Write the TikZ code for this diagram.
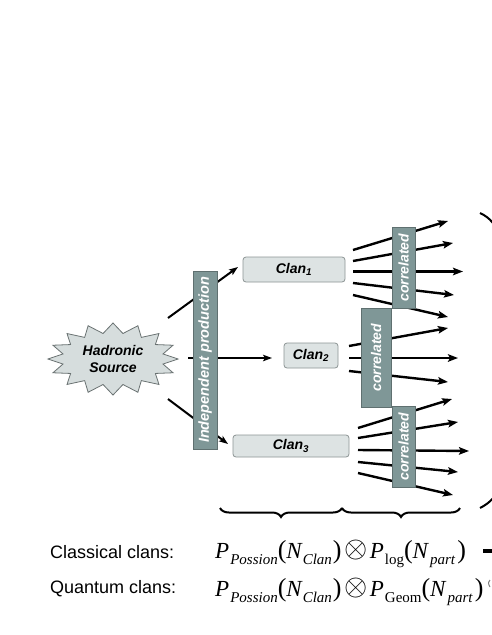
\documentclass[tikz,border=0pt]{standalone}
\usepackage{fontspec}
\setmainfont{Liberation Sans}
\newfontfamily\tms{Liberation Serif}
\usetikzlibrary{arrows.meta,decorations.pathreplacing}
\definecolor{barfill}{HTML}{7F9797}
\definecolor{bardraw}{HTML}{5F7070}
\definecolor{boxfill}{HTML}{DDE3E3}
\definecolor{boxdraw}{HTML}{8C9494}
\definecolor{starfill}{HTML}{D6DDDD}
\definecolor{stardraw}{HTML}{6A7272}
\newcommand\sbs[1]{\raisebox{-0.3em}{\fontsize{15}{15}\selectfont #1}}
\newcommand\lpar{{\fontsize{26}{26}\selectfont(}}
\newcommand\rpar{{\fontsize{26}{26}\selectfont)}}
\newcommand\otm{\hspace{2.5pt}\raisebox{0.5pt}{\scalebox{1.2}{$\otimes$}}\hspace{2.5pt}}
\begin{document}
\begin{tikzpicture}[x=1pt,y=-1pt,
  bar/.style={draw=bardraw, fill=barfill, line width=0.8pt, rotate=90, inner sep=0pt,
    text=white, font=\fontsize{14}{14}\selectfont\bfseries\itshape},
  clanbox/.style={draw=boxdraw, fill=boxfill, rounded corners=3pt, line width=0.8pt,
    inner sep=0pt, font=\fontsize{14}{14}\selectfont\bfseries\itshape},
  srcline/.style={line width=2pt, -{Stealth[length=9pt,width=6.5pt,inset=2pt]}},
  particle/.style={line width=2.4pt, -{Stealth[length=10pt,width=7.5pt,inset=2pt]}},
  brc/.style={line width=2pt, decorate, decoration={brace, amplitude=9pt, mirror}},
  lbl/.style={font=\fontsize{18}{18}\selectfont, anchor=base west, inner sep=0pt},
  frm/.style={font=\tms\fontsize{23}{23}\selectfont, anchor=base west, inner sep=0pt}
]
\useasboundingbox[fill=white] (0,0) rectangle (491,635);

% source star
\filldraw[fill=starfill, draw=stardraw, line width=0.8pt]
  (178,359) \foreach \k in {1,...,31}{
    \ifodd\k -- ({113+51*cos(\k*11.25)},{359+26*sin(\k*11.25)})
    \else -- ({113+65*cos(\k*11.25)},{359+36*sin(\k*11.25)}) \fi } -- cycle;
\node[align=center, font=\fontsize{14}{17}\selectfont\bfseries\itshape] (src) at (113,359) {Hadronic\\Source};

% clans
\node[clanbox, minimum width=102pt, minimum height=25pt] (clan1) at (294,269.5) {Clan\textsubscript{1}};
\node[clanbox, minimum width=54pt, minimum height=25pt] (clan2) at (311,355.5) {Clan\textsubscript{2}};
\node[clanbox, minimum width=116pt, minimum height=22pt] (clan3) at (291,446) {Clan\textsubscript{3}};

% lines from source to clans
\coordinate (s1) at (168,318);
\coordinate (s2) at (188,358);
\coordinate (s3) at (168,399);
\coordinate (t1) at (238,267);
\coordinate (t2) at (272,358);
\coordinate (t3) at (228,444);
\draw[srcline] (s1) -- (t1);
\draw[line width=1.3pt, -{Stealth[length=9pt,width=6.5pt,inset=2pt]}] (s2) -- (t2);
\draw[srcline] (s3) -- (t3);

% particle lines
\foreach \ya/\xb/\yb in {250/448/221, 261/453/243, 271.5/463/271.5, 283/454/295, 295/448/317}
  \draw[particle] (353,\ya) -- (\xb,\yb);
\foreach \ya/\xb/\yb in {346/448/328, 358/458/358, 371/448/382}
  \draw[particle] (349,\ya) -- (\xb,\yb);
\foreach \ya/\xb/\yb in {428/452/399, 438/458/422, 450/469/451, 462/458/472, 473/453/495}
  \draw[particle] (358,\ya) -- (\xb,\yb);

% bars
\node[bar, minimum width=178pt, minimum height=24pt, font=\fontsize{14.5}{14.5}\selectfont\bfseries\itshape] (ind) at (205,360) {Independent production};
\node[bar, minimum width=81pt, minimum height=23pt] (cor1) at (403.5,267.5) {correlated};
\node[bar, minimum width=99pt, minimum height=30pt] (cor2) at (376,357.5) {correlated};
\node[bar, minimum width=81pt, minimum height=23pt] (cor3) at (403.5,446.5) {correlated};

% big bracket on the right
\draw[line width=2pt] (480,213) .. controls (500,222) and (506,245) .. (506,290)
  -- (506,440) .. controls (506,480) and (500,498) .. (480,508);

% braces
\coordinate (b0) at (220,508);
\coordinate (b1) at (342,508);
\coordinate (b2) at (460,508);
\draw[brc] (b0) -- (b1);
\draw[brc] (b1) -- (b2);

% labels
\node[lbl] (cl) at (50,558) {Classical clans:};
\node[lbl] (ql) at (50,593) {Quantum clans:};
\node[frm] (f1) at (215,558) {\textit{P}\kern1pt\sbs{\textit{Possion}}\lpar\textit{N}\sbs{\textit{Clan}}\kern1pt\rpar\otm\textit{P}\kern1pt\sbs{log}\lpar\textit{N}\kern1pt\sbs{\textit{part}}\kern2pt\rpar};
\node[frm] (f2) at (215,596) {\textit{P}\kern1pt\sbs{\textit{Possion}}\lpar\textit{N}\sbs{\textit{Clan}}\kern1pt\rpar\otm\textit{P}\kern1pt\sbs{Geom}\lpar\textit{N}\kern1pt\sbs{\textit{part}}\kern2pt\rpar};
\draw[line width=4pt] (483,550.5) -- (495,550.5);
\draw[line width=1pt, gray] (490,580) .. controls (488,583) .. (490,587);
\end{tikzpicture}
\end{document}
